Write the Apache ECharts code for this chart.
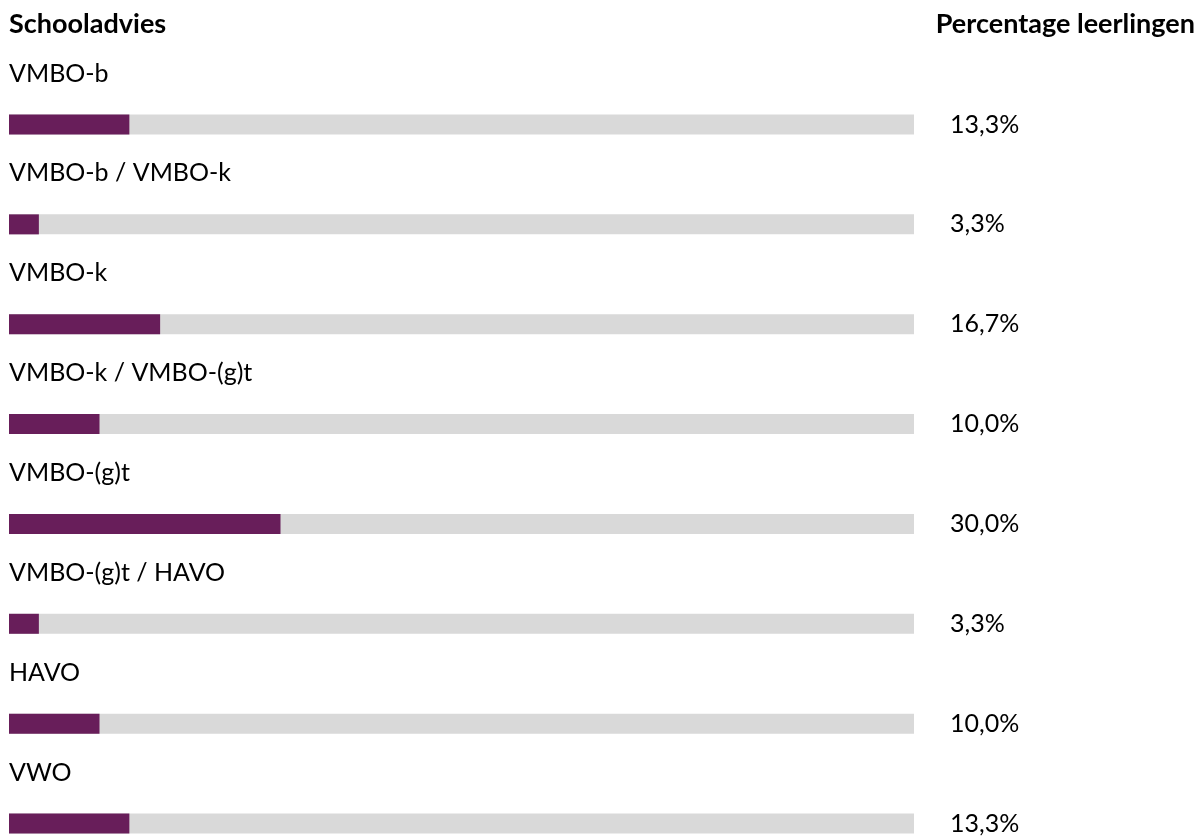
<!DOCTYPE html>
<html>
<head>
<meta charset="utf-8">
<script src="https://cdn.jsdelivr.net/npm/echarts@6/dist/echarts.min.js"></script>
<style>
html,body{margin:0;padding:0;background:#fff;}
#chart{width:1201px;height:836px;}
</style>
</head>
<body>
<div id="chart"></div>
<script>
const categories = ['VMBO-b', 'VMBO-b / VMBO-k', 'VMBO-k', 'VMBO-k / VMBO-(g)t', 'VMBO-(g)t', 'VMBO-(g)t / HAVO', 'HAVO', 'VWO'];
const values = [13.3, 3.3, 16.7, 10.0, 30.0, 3.3, 10.0, 13.3];
const headerLeft = 'Schooladvies';
const headerRight = 'Percentage leerlingen';

const fmt = v => v.toFixed(1).replace('.', ',') + '%';
const FONT = 'Lato';

const chart = echarts.init(document.getElementById('chart'));
chart.setOption({
  animation: false,
  backgroundColor: '#ffffff',
  title: [
    { text: headerLeft, left: 4, top: 6, textStyle: { fontFamily: FONT, fontWeight: 'bold', fontSize: 27, color: '#000' } },
    { text: headerRight, right: 1, top: 6, textStyle: { fontFamily: FONT, fontWeight: 'bold', fontSize: 27, color: '#000' } }
  ],
  grid: { left: 9, right: 287, top: 124.5, height: 700, containLabel: false },
  xAxis: { type: 'value', min: 0, max: 100, show: false },
  yAxis: [
    {
      type: 'category', data: categories, inverse: true, boundaryGap: false,
      axisLine: { show: false }, axisTick: { show: false }, splitLine: { show: false },
      axisLabel: { show: false }
    },
    {
      type: 'category', data: values.map(fmt), inverse: true, position: 'right', boundaryGap: false,
      axisLine: { show: false }, axisTick: { show: false }, splitLine: { show: false },
      axisLabel: { margin: 36, align: 'left', fontFamily: FONT, fontSize: 25, color: '#000' }
    }
  ],
  series: [{
    type: 'bar', data: values, barWidth: 20, yAxisIndex: 0,
    itemStyle: { color: '#681e5a' },
    showBackground: true,
    backgroundStyle: { color: '#d9d9d9' },
    label: {
      show: true, formatter: '{b}', position: [0, -41], align: 'left', verticalAlign: 'middle',
      fontFamily: FONT, fontSize: 25, color: '#000'
    }
  }]
});
</script>
</body>
</html>
